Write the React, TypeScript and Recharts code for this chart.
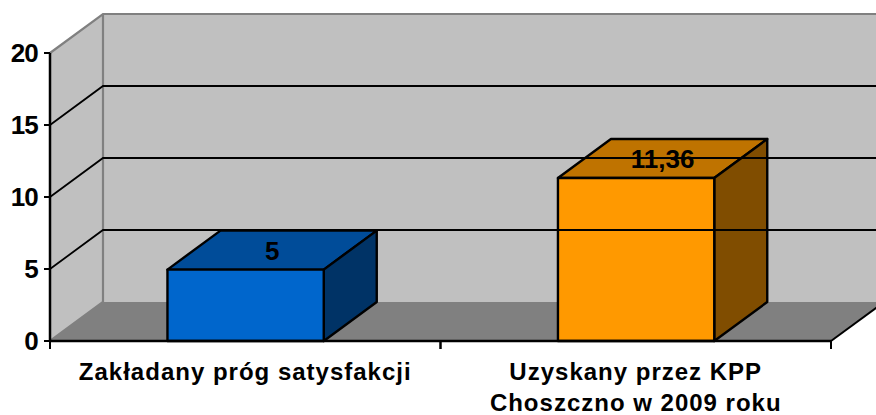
import React from "react";
import { BarChart, Bar, XAxis, YAxis, ReferenceArea, ReferenceLine, LabelList } from "recharts";

const categories = [["Zakładany próg satysfakcji"], ["Uzyskany przez KPP", "Choszczno w 2009 roku"]];
const values = [5, 11.36];
const valueLabels = ["5", "11,36"];
const yTicks = [0, 5, 10, 15, 20];
const gridValues = [5, 10, 15];
const frontColors = ["#0066CC", "#FF9900"];
const topColors = ["#004C99", "#BF7300"];
const sideColors = ["#003366", "#804D00"];

const data = categories.map((lines, i) => ({ name: lines.join(" "), lines, value: values[i], label: valueLabels[i] }));

const DX = 53;
const DY = 39;
const FONT = "'Liberation Sans', Arial, sans-serif";

function Walls(props: any) {
  const { x, y, width, height } = props;
  const b = y + height;
  const r = x + width;
  return (
    <g>
      <polygon points={`${x},${y} ${x + DX},${y - DY} ${r + DX},${y - DY} ${r + DX},${b - DY} ${x + DX},${b - DY} ${x},${b}`} fill="#C0C0C0" />
      <polygon points={`${x},${b} ${x + DX},${b - DY} ${r + DX},${b - DY} ${r},${b}`} fill="#808080" />
      <path d={`M${x},${y} L${x + DX},${y - DY} L${r + DX},${y - DY} M${x + DX},${y - DY} L${x + DX},${b - DY} L${x},${b}`} fill="none" stroke="#808080" strokeWidth={2.2} />
      <line x1={r} y1={b} x2={r + DX} y2={b - DY} stroke="#000" strokeWidth={2} />
    </g>
  );
}

function GridLine(props: any) {
  const { x1, y1, x2 } = props;
  return (
    <path d={`M${x1},${y1} L${x1 + DX},${y1 - DY} L${x2 + DX},${y1 - DY}`} fill="none" stroke="#000" strokeWidth={1.8} />
  );
}

function Box(props: any) {
  const { x, y, width, height, index } = props;
  const left = x + 0.3;
  const r = x + width + 0.6;
  const top = y + 0.6;
  const b = y + height;
  const stroke = { stroke: "#000", strokeWidth: 2.4, strokeLinejoin: "round" as const };
  return (
    <g>
      <polygon points={`${left},${top} ${left + DX},${top - DY} ${r + DX},${top - DY} ${r},${top}`} fill={topColors[index]} {...stroke} />
      <polygon points={`${r},${top} ${r + DX},${top - DY} ${r + DX},${b - DY} ${r},${b}`} fill={sideColors[index]} {...stroke} />
      <rect x={left} y={top} width={r - left} height={b - top} fill={frontColors[index]} {...stroke} />
    </g>
  );
}

function TopLabel(props: any) {
  const { x, y, width, value } = props;
  return (
    <text x={x + width / 2 + DX / 2 + 0.5} y={y - DY / 2 + 10.5} textAnchor="middle" fontFamily={FONT} fontWeight="bold" fontSize={26} fill="#000">
      {value}
    </text>
  );
}

function CategoryTick(props: any) {
  const { x, y, payload, index } = props;
  const step = 390.5;
  const lines = categories[index] ?? [payload.value];
  return (
    <g>
      <line x1={x - step / 2} y1={y - 8} x2={x - step / 2} y2={y} stroke="#000" strokeWidth={2} />
      <line x1={x + step / 2} y1={y - 8} x2={x + step / 2} y2={y} stroke="#000" strokeWidth={2} />
      {lines.map((t: string, i: number) => (
        <text key={i} x={x} y={y + 31 + i * 31} textAnchor="middle" fontFamily={FONT} fontWeight="bold" fontSize={24} letterSpacing={1} fill="#000">
          {t}
        </text>
      ))}
    </g>
  );
}

export default function App() {
  return (
    <div style={{ position: "absolute", left: 0, top: 0, width: 876, height: 415, overflow: "hidden", background: "#fff" }}>
      <BarChart width={876} height={415} data={data} margin={{ top: 53, right: 45, bottom: 0, left: 0 }} barCategoryGap="30%">
        <ReferenceArea y1={0} y2={20} shape={<Walls />} />
        {gridValues.map((v) => (
          <ReferenceLine key={v} y={v} shape={<GridLine />} />
        ))}
        <XAxis dataKey="name" height={74} axisLine={{ stroke: "#000", strokeWidth: 2.5 }} tickLine={false} tick={<CategoryTick />} interval={0} />
        <YAxis
          width={50}
          domain={[0, 20]}
          ticks={yTicks}
          interval={0}
          axisLine={{ stroke: "#000", strokeWidth: 2.5 }}
          tickLine={{ stroke: "#000", strokeWidth: 2 }}
          tickSize={6}
          tickMargin={6}
          tick={{ fontFamily: FONT, fontWeight: "bold", fontSize: 26, letterSpacing: -0.8, fill: "#000" }}
        />
        <Bar dataKey="value" shape={<Box />} isAnimationActive={false}>
          <LabelList dataKey="label" content={<TopLabel />} />
        </Bar>
      </BarChart>
    </div>
  );
}
